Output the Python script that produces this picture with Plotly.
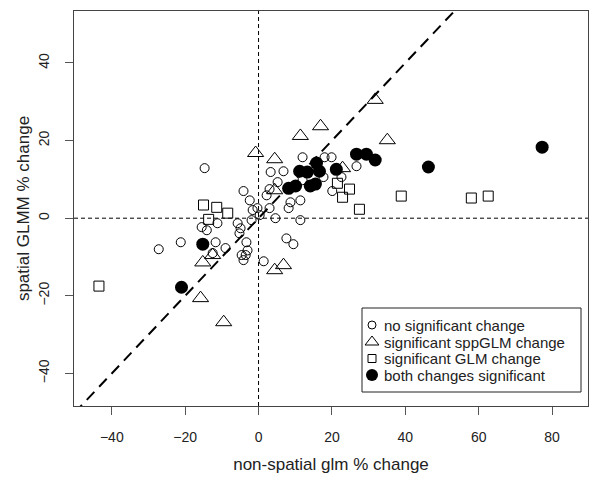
import plotly.graph_objects as go

# ---- data ----
none_x = [-14.7, 12.0, 18.0, 19.9, 26.7, 6.8, 3.3, 5.2, 12.0, 17.7, 22.6, 20.1, 3.0, 2.2, -4.1,
          -2.4, 8.7, 11.4, 8.2, 3.0, 4.6, 11.4, -1.6, -0.3, 0.3, -1.9, -5.7, -4.9, -5.2, -11.2,
          -15.5, -14.1, -11.7, -21.2, -27.2, -9.0, -3.3, -3.0, -4.6, -3.5, -4.1, -12.5, 1.4, 7.6, 9.5]
none_y = [12.9, 15.7, 15.7, 15.7, 13.4, 12.1, 11.9, 9.3, 9.8, 10.6, 10.6, 7.0, 7.5, 5.9, 7.0,
          4.6, 4.1, 4.6, 2.6, 2.6, 0.0, -0.5, 2.1, 2.6, 0.8, -0.5, -1.3, -2.6, -3.9, -1.3,
          -2.3, -3.1, -6.2, -6.2, -8.0, -7.7, -6.2, -8.3, -9.5, -9.5, -10.8, -9.0, -11.1, -5.2, -6.7]

spp_x = [31.8, 11.4, 16.9, -0.8, 4.4, 35.1, 4.4, 22.9, -15.2, -12.5, -15.8, -9.5, 4.4, 6.8]
spp_y = [30.5, 21.2, 23.7, 16.8, 15.2, 20.1, 7.2, 12.9, -11.4, -9.5, -20.6, -26.8, -13.4, -12.1]

glm_x = [-43.5, -15.0, -11.4, -8.4, -13.6, 21.5, 24.8, 22.9, 27.5, 38.9, 58.0, 62.6]
glm_y = [-17.5, 3.4, 2.8, 1.3, -0.3, 9.0, 7.5, 5.4, 2.3, 5.7, 5.2, 5.7]

both_x = [77.3, 46.3, 31.8, 29.4, 26.7, 21.2, 16.6, 15.8, 13.3, 11.2, 15.5, 14.1, 10.1, 8.2, -15.2, -21.0]
both_y = [18.3, 13.2, 15.0, 16.5, 16.5, 12.6, 12.1, 14.2, 11.9, 12.1, 8.8, 8.3, 8.3, 7.7, -6.7, -17.8]

legend_labels = ["no significant change", "significant sppGLM change",
                 "significant GLM change", "both changes significant"]

x_ticks = [-40, -20, 0, 20, 40, 60, 80]
y_ticks = [-40, -20, 0, 20, 40]
x_range = [-50.3, 89.8]
y_range = [-48.4, 53.4]

FONT = "Liberation Sans, Arial, sans-serif"
TXT = "#222"

# series styles
styles = [
    dict(symbol="circle-open", size=9, color="black", line=dict(width=1)),
    dict(symbol="triangle-up-open", size=14, color="black", line=dict(width=1)),
    dict(symbol="square-open", size=10, color="black", line=dict(width=1)),
    dict(symbol="circle", size=13, color="black", line=dict(width=0)),
]
legend_styles = [
    dict(symbol="circle-open", size=8, color="black", line=dict(width=1)),
    dict(symbol="triangle-up-open", size=12, color="black", line=dict(width=1)),
    dict(symbol="square-open", size=8, color="black", line=dict(width=1)),
    dict(symbol="circle", size=12, color="black", line=dict(width=0)),
]
series = [(none_x, none_y), (spp_x, spp_y), (glm_x, glm_y), (both_x, both_y)]

fig = go.Figure()
for (sx, sy), st, lab in zip(series, styles, legend_labels):
    fig.add_trace(go.Scatter(x=sx, y=sy, mode="markers", name=lab, marker=st, showlegend=False))

# 1:1 line (abline(0,1)) spanning the axis ranges
lo = min(x_range[0], y_range[0]) - 10
hi = max(x_range[1], y_range[1]) + 10
fig.add_trace(go.Scatter(x=[lo, hi], y=[lo, hi], mode="lines", showlegend=False, hoverinfo="skip",
                         line=dict(color="black", width=2, dash="11px,7px")))

fig.add_shape(type="line", xref="x", yref="paper", x0=0, x1=0, y0=0, y1=1,
              line=dict(color="black", width=1, dash="4px,3px"), layer="above")
fig.add_shape(type="line", xref="paper", yref="y", x0=0, x1=1, y0=0, y1=0,
              line=dict(color="black", width=1, dash="4px,3px"), layer="above")

# ---- R-style legend box (layout positions in pixels -> plot-area fractions) ----
L, R_, T, B = 74, 2, 11, 71
W, H = 590, 477
pw, ph = W - L - R_, H - T - B
fx = lambda px: (px - L) / pw
fy = lambda py: (H - B - py) / ph

box = dict(x0=362, x1=581, y0=308, y1=392)
sym_x = 372
txt_x = 382
rows_y = [325, 342, 358.5, 375]

fig.add_shape(type="rect", xref="paper", yref="paper",
              x0=fx(box["x0"]), x1=fx(box["x1"]), y0=fy(box["y1"]), y1=fy(box["y0"]),
              line=dict(color="#222", width=1), fillcolor="white", layer="below")
for lab, st, ry in zip(legend_labels, legend_styles, rows_y):
    fig.add_trace(go.Scatter(x=[fx(sym_x)], y=[fy(ry)], xaxis="x2", yaxis="y2", mode="markers",
                             marker=st, showlegend=False, hoverinfo="skip"))
    fig.add_annotation(xref="paper", yref="paper", x=fx(txt_x), y=fy(ry), text=lab,
                       showarrow=False, xanchor="left", yanchor="middle",
                       font=dict(family=FONT, size=15, color=TXT))

fig.update_layout(
    width=W, height=H,
    margin=dict(l=L, r=R_, t=T, b=B),
    paper_bgcolor="white", plot_bgcolor="white",
    font=dict(family=FONT, size=14, color=TXT),
    showlegend=False,
    xaxis2=dict(overlaying="x", range=[0, 1], visible=False, fixedrange=True),
    yaxis2=dict(overlaying="y", range=[0, 1], visible=False, fixedrange=True),
    xaxis=dict(range=x_range, tickvals=x_ticks, ticks="outside", ticklen=8, tickcolor="#555",
               showline=True, linecolor="#444", linewidth=1, mirror=True, showgrid=False,
               zeroline=False, title=dict(text="non-spatial glm % change", standoff=14),
               tickfont=dict(size=14), ticklabelstandoff=10),
    yaxis=dict(range=y_range, tickvals=y_ticks, ticks="outside", ticklen=8, tickcolor="#555",
               showline=True, linecolor="#444", linewidth=1, mirror=True, showgrid=False,
               zeroline=False, tickangle=-90, title=dict(text="spatial GLMM % change", standoff=2),
               tickfont=dict(size=14), ticklabelstandoff=10),
)

fig.write_html("out.html")
